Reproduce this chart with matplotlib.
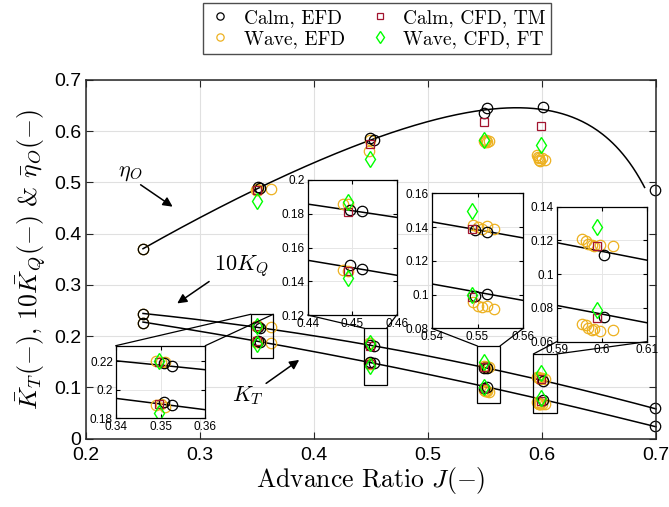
import numpy as np
import matplotlib
matplotlib.use('Agg')
import matplotlib.pyplot as plt
from matplotlib.patches import Rectangle, ConnectionPatch
from matplotlib.ticker import FormatStrFormatter

plt.rcParams['font.family'] = 'Liberation Sans'
plt.rcParams['mathtext.fontset'] = 'cm'

# Calm, EFD (two repeats at most J)
j_calm = [0.25, 0.3508, 0.3525, 0.4495, 0.4523, 0.5495, 0.5520, 0.6006, 0.6990]
eta_calm = [0.370, 0.491, 0.490, 0.587, 0.583, 0.635, 0.646, 0.647, 0.485]
kq10_calm = [0.243, 0.2184, 0.2167, 0.182, 0.1814, 0.1384, 0.137, 0.1114, 0.0596]
kt_calm = [0.226, 0.1912, 0.1893, 0.1499, 0.1475, 0.0990, 0.1004, 0.0747, 0.025]

# Wave, EFD
j_wave = [0.25, 0.3490, 0.3500, 0.3510, 0.3620, 0.4480, 0.4490, 0.5490, 0.5500,
          0.5510, 0.5520, 0.5535, 0.5956, 0.5964, 0.5970, 0.5978, 0.5983, 0.5996, 0.6025]
eta_wave = [0.370, 0.486, 0.488, 0.485, 0.488, 0.561, 0.583, 0.581, 0.579,
            0.582, 0.578, 0.580, 0.553, 0.550, 0.547, 0.544, 0.541, 0.548, 0.543]
kq10_wave = [0.243, 0.220, 0.219, 0.219, 0.217, 0.186, 0.1855, 0.1415, 0.140,
             0.139, 0.1405, 0.139, 0.1207, 0.1199, 0.118, 0.1175, 0.1165, 0.1175, 0.117]
kt_wave = [0.226, 0.189, 0.190, 0.188, 0.186, 0.1465, 0.146, 0.0954, 0.093,
           0.0925, 0.093, 0.0913, 0.0707, 0.0697, 0.0683, 0.0668, 0.0675, 0.0665, 0.0671]

# Calm, CFD, TM
j_tm = [0.3497, 0.4490, 0.5489, 0.5989]
eta_tm = [0.486, 0.575, 0.618, 0.611]
kq10_tm = [0.219, 0.181, 0.139, 0.1165]
kt_tm = [0.190, 0.146, 0.0985, 0.0738]

# Wave, CFD, FT
j_ft = [0.3497, 0.4490, 0.5489, 0.5989]
eta_ft = [0.463, 0.546, 0.583, 0.573]
kq10_ft = [0.220, 0.187, 0.1494, 0.1282]
kt_ft = [0.1838, 0.142, 0.100, 0.0789]

# fitted open-water curves (from calm EFD)
kt_fit = np.polyfit(j_calm, kt_calm, 2)
kq_fit = np.polyfit(j_calm, kq10_calm, 2)
j_line = np.linspace(0.25, 0.70, 300)
j_eta = np.linspace(0.25, 0.69, 300)
eta_line = j_eta * np.polyval(kt_fit, j_eta) / (2 * np.pi * np.polyval(kq_fit, j_eta) / 10)

c_orange = '#EDB120'
c_red = '#A2142F'
c_green = '#00FF00'


def draw_data(axis, ms=7.5, clip=True):
    axis.plot(j_line, np.polyval(kt_fit, j_line), 'k-', lw=1.1, clip_on=clip)
    axis.plot(j_line, np.polyval(kq_fit, j_line), 'k-', lw=1.1, clip_on=clip)
    axis.plot(j_eta, eta_line, 'k-', lw=1.1, clip_on=clip)
    hs = []
    for yv in (eta_wave, kq10_wave, kt_wave):
        h, = axis.plot(j_wave, yv, 'o', mfc='none', mec=c_orange, ms=ms, mew=0.9, clip_on=clip)
    hs.append(h)
    for yv in (eta_calm, kq10_calm, kt_calm):
        h, = axis.plot(j_calm, yv, 'o', mfc='none', mec='k', ms=ms, mew=0.9, clip_on=clip)
    hs.insert(0, h)
    for yv in (eta_tm, kq10_tm, kt_tm):
        h, = axis.plot(j_tm, yv, 's', mfc='none', mec=c_red, ms=ms * 0.75, mew=0.9, clip_on=clip)
    hs.append(h)
    for yv in (eta_ft, kq10_ft, kt_ft):
        h, = axis.plot(j_ft, yv, 'd', mfc='none', mec=c_green, ms=ms * 1.15, mew=1.0, clip_on=clip)
    hs.append(h)
    return hs


fig = plt.figure(figsize=(6.69, 5.07), dpi=100)
W, H = 669, 507
ax = fig.add_axes([86 / W, (H - 438.5) / H, 570 / W, 358.5 / H])
handles = draw_data(ax, clip=False)
ax.set_xlim(0.2, 0.7)
ax.set_ylim(0, 0.7)
ax.set_xticks(np.arange(0.2, 0.71, 0.1))
ax.set_yticks(np.arange(0, 0.71, 0.1))
ax.xaxis.set_major_formatter(FormatStrFormatter('%g'))
ax.yaxis.set_major_formatter(FormatStrFormatter('%g'))
ax.tick_params(direction='in', top=True, right=True, labelsize=14, color='0.15', length=5)
ax.tick_params(axis='x', pad=6)
ax.grid(True, color='0.88', lw=0.8)
for s in ax.spines.values():
    s.set_color('0.15')
    s.set_linewidth(1.1)
ax.set_xlabel(r'Advance Ratio $J(-)$', fontfamily='cmr10', fontsize=18.5, labelpad=1)
ax.set_ylabel(r'$\bar{K}_T(-)$, $10\bar{K}_Q(-)$ & $\bar{\eta}_O(-)$',
              fontfamily='cmr10', fontsize=18.5, labelpad=4)

# annotations
ax.text(0.2386, 0.52, r'$\eta_O$', fontsize=16, ha='center', va='center')
ax.annotate('', xy=(0.278, 0.4496), xytext=(0.2459, 0.4985),
            arrowprops=dict(arrowstyle='-|>', color='k', lw=1.1, mutation_scale=14))
ax.text(0.336, 0.336, r'$10K_Q$', fontsize=16, ha='center', va='center')
ax.annotate('', xy=(0.278, 0.2607), xytext=(0.310, 0.3096),
            arrowprops=dict(arrowstyle='-|>', color='k', lw=1.1, mutation_scale=14))
ax.text(0.342, 0.083, r'$K_T$', fontsize=16, ha='center', va='center')
ax.annotate('', xy=(0.389, 0.1566), xytext=(0.356, 0.1045),
            arrowprops=dict(arrowstyle='-|>', color='k', lw=1.1, mutation_scale=14))

# zoom insets: figure position, x range, y range, y ticks
inset_pos = [[115.7, 345.7, 205.3, 418.3], [307.7, 180, 396.7, 315],
             [431.7, 193.3, 523.3, 328.3], [556.7, 206.7, 646.7, 341.7]]
inset_xlim = [(0.34, 0.36), (0.44, 0.46), (0.54, 0.56), (0.59, 0.61)]
inset_ylim = [(0.18, 0.2307), (0.12, 0.2), (0.08, 0.16), (0.06, 0.14)]
inset_yticks = [[0.18, 0.2, 0.22], [0.12, 0.14, 0.16, 0.18, 0.2],
                [0.08, 0.1, 0.12, 0.14, 0.16], [0.06, 0.08, 0.1, 0.12, 0.14]]
rect_box = [(0.3447, 0.1566, 0.3643, 0.2426), (0.4441, 0.1045, 0.4637, 0.2152),
            (0.5433, 0.0688, 0.5632, 0.1807), (0.5924, 0.0504, 0.6129, 0.165)]

for i in range(4):
    x0p, y0p, x1p, y1p = inset_pos[i]
    ins = fig.add_axes([x0p / W, (H - y1p) / H, (x1p - x0p) / W, (y1p - y0p) / H])
    draw_data(ins, ms=7.5)
    ins.set_xlim(*inset_xlim[i])
    ins.set_ylim(*inset_ylim[i])
    xa, xb = inset_xlim[i]
    ins.set_xticks([xa, (xa + xb) / 2, xb])
    ins.set_yticks(inset_yticks[i])
    ins.xaxis.set_major_formatter(FormatStrFormatter('%g'))
    ins.yaxis.set_major_formatter(FormatStrFormatter('%g'))
    ins.tick_params(direction='in', top=True, right=True, labelsize=8.5, length=3, pad=2)
    ins.grid(True, color='0.9', lw=0.7)
    for s in ins.spines.values():
        s.set_color('k')
        s.set_linewidth(0.9)

    rx0, ry0, rx1, ry1 = rect_box[i]
    ax.add_patch(Rectangle((rx0, ry0), rx1 - rx0, ry1 - ry0, fill=False, ec='k', lw=0.9, zorder=5))
    ya = 1 if i == 0 else 0
    for cx, rx in ((0, rx0), (1, rx1)):
        con = ConnectionPatch(xyA=(cx, ya), coordsA=ins.transAxes, xyB=(rx, ry1),
                              coordsB=ax.transData, color='k', lw=0.9)
        fig.add_artist(con)

labels = ['Calm, EFD', 'Wave, EFD', 'Calm, CFD, TM', 'Wave, CFD, FT']
leg = fig.legend(handles, labels, loc='center', bbox_to_anchor=(377 / W, (H - 28.5) / H),
                 ncol=2, fancybox=False, edgecolor='0.3', framealpha=1, markerscale=0.7,
                 prop={'family': 'cmr10', 'size': 14}, handlelength=1.2,
                 handletextpad=0.6, columnspacing=1.2, borderpad=0.3, labelspacing=0.15)
leg.get_frame().set_linewidth(1.0)

fig.savefig('out.png', dpi=100)
